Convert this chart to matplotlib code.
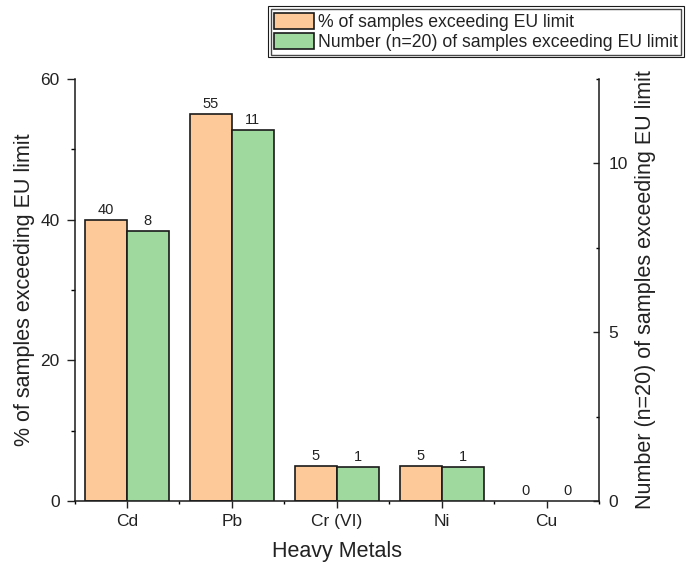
import matplotlib
matplotlib.use('Agg')
import matplotlib.pyplot as plt
import numpy as np
from matplotlib.patches import Rectangle

plt.rcParams['font.family'] = ['Liberation Sans', 'DejaVu Sans']

# data
metals = ['Cd', 'Pb', 'Cr (VI)', 'Ni', 'Cu']
pct_exceeding = [40, 55, 5, 5, 0]
num_exceeding = [8, 11, 1, 1, 0]

orange = '#FDC998'
green = '#9FD99E'
txt = '#222222'

fig = plt.figure(figsize=(6.88, 5.72), dpi=100)
ax = fig.add_axes([0.1083, 0.1241, 0.7623, 0.7378])
ax2 = ax.twinx()

x = np.arange(len(metals))
w = 0.4

b1 = ax.bar(x - w/2, pct_exceeding, w, color=orange, edgecolor='#1a1a1a',
            linewidth=1.2, label='% of samples exceeding EU limit')
b2 = ax2.bar(x + w/2, num_exceeding, w, color=green, edgecolor='#1a1a1a',
             linewidth=1.2, label='Number (n=20) of samples exceeding EU limit')

# empty bars show no outline
for bars, vals in [(b1, pct_exceeding), (b2, num_exceeding)]:
    for r, v in zip(bars, vals):
        if v == 0:
            r.set_linewidth(0)

ax.bar_label(b1, padding=2, fontsize=10.5, color=txt)
ax2.bar_label(b2, padding=2, fontsize=10.5, color=txt)

ax.set_xlim(-0.5, 4.5)
ax.set_ylim(0, 60)
ax2.set_ylim(0, 12.5)

ax.set_xticks(x)
ax.set_xticklabels(metals)
ax.set_xticks(np.arange(-0.5, 5, 1), minor=True)
ax.set_yticks([0, 20, 40, 60])
ax.set_yticks([10, 30, 50], minor=True)
ax2.set_yticks([0, 5, 10])
ax2.set_yticks([2.5, 7.5, 12.5], minor=True)

for s in ['top', 'right']:
    ax.spines[s].set_visible(False)
for s in ['top', 'left', 'bottom']:
    ax2.spines[s].set_visible(False)
for sp in [ax.spines['left'], ax.spines['bottom'], ax2.spines['right']]:
    sp.set_linewidth(1.1)
    sp.set_color('#1a1a1a')

ax.tick_params(axis='y', which='major', direction='out', length=5.8, width=1.0,
               pad=5, labelsize=12.5, colors=txt)
ax.tick_params(axis='y', which='minor', direction='out', length=3, width=1.0)
ax.tick_params(axis='x', which='major', direction='out', length=5, width=1.0,
               pad=4, labelsize=12.5, colors=txt)
ax.tick_params(axis='x', which='minor', direction='out', length=2.5, width=1.0)
ax2.tick_params(axis='y', which='major', direction='in', length=4.3, width=1.0,
                pad=7, labelsize=12.5, colors=txt)
ax2.tick_params(axis='y', which='minor', direction='in', length=2.4, width=1.0)

ax.set_xlabel('Heavy Metals', fontsize=15.5, color=txt, labelpad=9)
ax.set_ylabel('% of samples exceeding EU limit', fontsize=15.5, color=txt, labelpad=4)
ax2.set_ylabel('Number (n=20) of samples exceeding EU limit', fontsize=15.5,
               color=txt, labelpad=5)

leg = fig.legend(handles=[b1, b2], loc='upper right',
                 bbox_to_anchor=(681/688, 1 - 9/572), fontsize=12.7,
                 frameon=True, fancybox=False, edgecolor='#1a1a1a',
                 handlelength=2.27, handleheight=1.08, labelspacing=0.1,
                 handletextpad=0.2, borderpad=0.2, borderaxespad=0)
leg.get_frame().set_linewidth(1.0)
for t in leg.get_texts():
    t.set_color(txt)

# Origin style double border round the legend
fig.canvas.draw()
bb = leg.get_window_extent().transformed(fig.transFigure.inverted())
dx, dy = 2.5/688, 2.5/572
fig.patches.append(Rectangle((bb.x0 - dx, bb.y0 - dy), bb.width + 2*dx, bb.height + 2*dy,
                             transform=fig.transFigure, fill=False,
                             edgecolor='#1a1a1a', linewidth=0.8))

fig.savefig('out.png', dpi=100)
